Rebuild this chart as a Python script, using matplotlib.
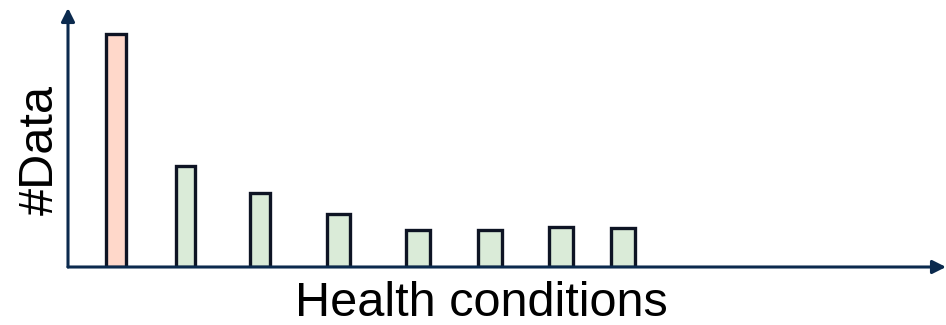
import matplotlib.pyplot as plt

plt.rcParams['font.family'] = ['Liberation Sans', 'DejaVu Sans']

# datos (sin ticks en el original)
posiciones = [48, 117, 192, 270, 350, 422, 493, 555]
valores = [233, 101, 74, 53, 37, 37, 40, 39]
anchos = [20, 19, 20, 23, 24, 24, 24, 24]
colores = ['#FFD8CA'] + ['#DAEBD8'] * 7

fig = plt.figure(figsize=(9.46, 3.25), dpi=100)
ax = fig.add_axes([68 / 946, (325 - 267) / 325, (946 - 68) / 946, (267 - 8) / 325])
ax.set_xlim(0, 878)
ax.set_ylim(0, 259)

ax.bar(posiciones, valores, width=anchos, color=colores,
       edgecolor='#0E1424', linewidth=2.4, zorder=3)

for s in ax.spines.values():
    s.set_visible(False)
ax.set_xticks([])
ax.set_yticks([])

eje = '#0B2A4E'
# ejes con flecha
ax.annotate('', xy=(1, 0), xytext=(0, 0), xycoords='axes fraction',
            arrowprops=dict(arrowstyle='-|>,head_length=0.8,head_width=0.4',
                            color=eje, lw=2.2, shrinkA=0, shrinkB=0), zorder=5)
ax.annotate('', xy=(0, 1), xytext=(0, 0), xycoords='axes fraction',
            arrowprops=dict(arrowstyle='-|>,head_length=0.8,head_width=0.4',
                            color=eje, lw=2.2, shrinkA=0, shrinkB=0), zorder=5)

fig.text(481 / 946, 1 - 303 / 325, 'Health conditions', fontsize=35,
         ha='center', va='center')
fig.text(40 / 946, 1 - 150 / 325, '#Data', fontsize=35, rotation=90,
         ha='center', va='center')

plt.savefig('out.png', dpi=100)
